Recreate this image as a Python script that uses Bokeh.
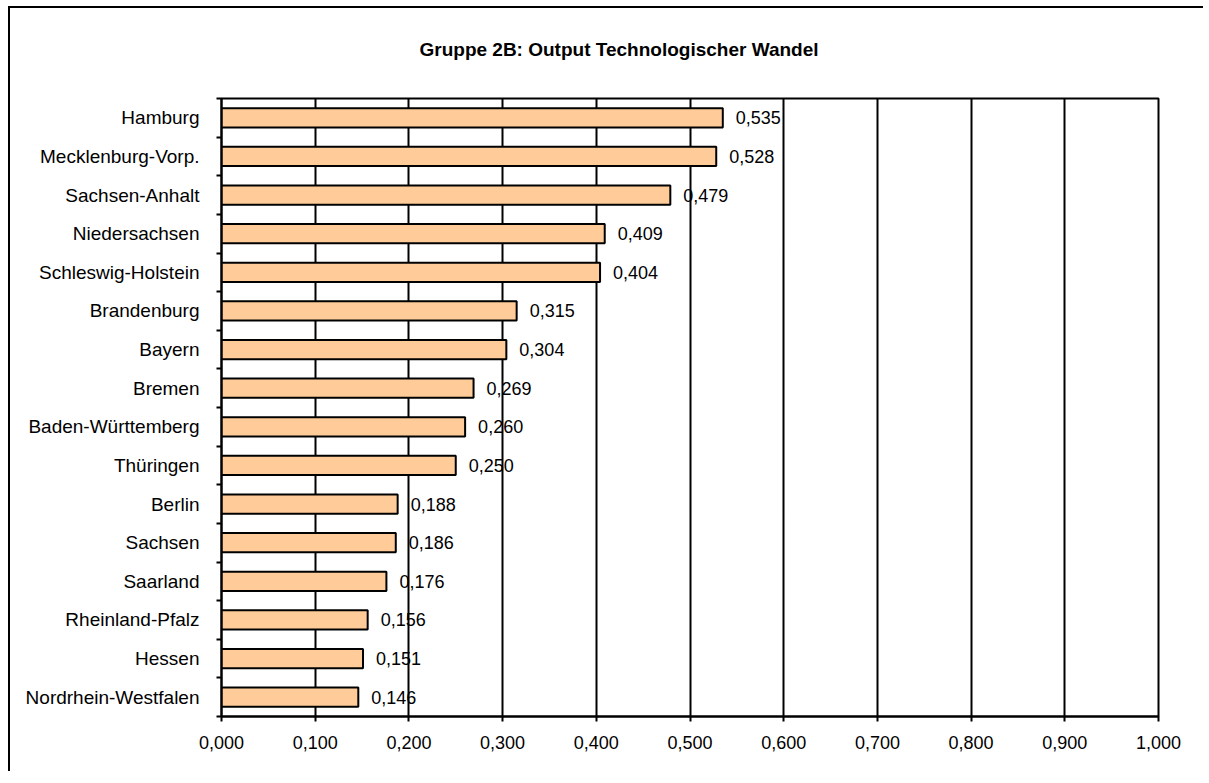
from bokeh.plotting import figure
from bokeh.models import Range1d, FixedTicker, ColumnDataSource, Title
from bokeh.embed import file_html
from bokeh.resources import INLINE
from bokeh.core.properties import value

title_text = "Gruppe 2B: Output Technologischer Wandel"
regions = ["Hamburg", "Mecklenburg-Vorp.", "Sachsen-Anhalt", "Niedersachsen",
           "Schleswig-Holstein", "Brandenburg", "Bayern", "Bremen",
           "Baden-Württemberg", "Thüringen", "Berlin", "Sachsen", "Saarland",
           "Rheinland-Pfalz", "Hessen", "Nordrhein-Westfalen"]
values = [0.535, 0.528, 0.479, 0.409, 0.404, 0.315, 0.304, 0.269,
          0.260, 0.250, 0.188, 0.186, 0.176, 0.156, 0.151, 0.146]
x_ticks = [0.0, 0.1, 0.2, 0.3, 0.4, 0.5, 0.6, 0.7, 0.8, 0.9, 1.0]

FONT = "Liberation Sans"
n = len(regions)
ypos = [n - 0.5 - i for i in range(n)]
labels_txt = [f"{v:.3f}".replace(".", ",") for v in values]

src = ColumnDataSource(dict(y=ypos, v=values, lab=labels_txt))

p = figure(width=1195, height=765, output_backend="svg", toolbar_location=None,
           x_range=Range1d(0, 1), y_range=Range1d(0, n),
           min_border_left=211, min_border_top=89, min_border_right=47,
           min_border_bottom=57, title=title_text)
p.styles = {"border-top": "2px solid black", "border-left": "2px solid black",
            "border-right": "none", "border-bottom": "none",
            "overflow": "hidden",
            "margin-left": "8px", "margin-top": "6px"}
p.background_fill_color = "white"
p.border_fill_color = "white"
p.outline_line_color = "black"
p.outline_line_width = 2

p.title.align = "left"
p.title.offset = 198
p.title.standoff = 56
p.title.text_font = FONT
p.title.text_font_size = "19px"
p.title.text_font_style = "bold"
p.title.text_color = "black"

# thin spacer between the title and the plot frame
p.add_layout(Title(text=" ", text_font_size="8px", standoff=0), "above")

p.hbar(y="y", right="v", left=0, height=0.5, source=src,
       fill_color="#FFCC99", line_color="black", line_width=2)
p.text(x="v", y="y", text="lab", source=src, x_offset=13,
       text_align="left", text_baseline="middle",
       text_font=value(FONT), text_font_size="18px", text_color="black")

# x axis
p.xaxis.ticker = FixedTicker(ticks=x_ticks)
p.xaxis.major_label_overrides = {t: f"{t:.3f}".replace(".", ",") for t in x_ticks}
p.xaxis.axis_line_width = 2
p.xaxis.axis_line_color = "black"
p.xaxis.major_tick_line_width = 2
p.xaxis.major_tick_out = 5
p.xaxis.major_tick_in = 0
p.xaxis.minor_tick_line_color = None
p.xaxis.major_label_standoff = 14
p.xaxis.major_label_text_font = FONT
p.xaxis.major_label_text_font_size = "18px"
p.xaxis.major_label_text_color = "black"

# y axis
p.yaxis.ticker = FixedTicker(ticks=ypos, minor_ticks=list(range(n + 1)))
p.yaxis.major_label_overrides = {y: r for y, r in zip(ypos, regions)}
p.yaxis.axis_line_width = 2
p.yaxis.axis_line_color = "black"
p.yaxis.major_tick_line_color = None
p.yaxis.major_tick_out = 0
p.yaxis.major_tick_in = 0
p.yaxis.minor_tick_line_width = 2
p.yaxis.minor_tick_line_color = "black"
p.yaxis.minor_tick_out = 5
p.yaxis.minor_tick_in = 0
p.yaxis.major_label_standoff = 17
p.yaxis.major_label_text_font = FONT
p.yaxis.major_label_text_font_size = "19px"
p.yaxis.major_label_text_color = "black"

p.xgrid.ticker = FixedTicker(ticks=x_ticks)
p.xgrid.grid_line_color = "black"
p.xgrid.grid_line_width = 2
p.ygrid.grid_line_color = None

open("out.html", "w").write(file_html(p, INLINE))
